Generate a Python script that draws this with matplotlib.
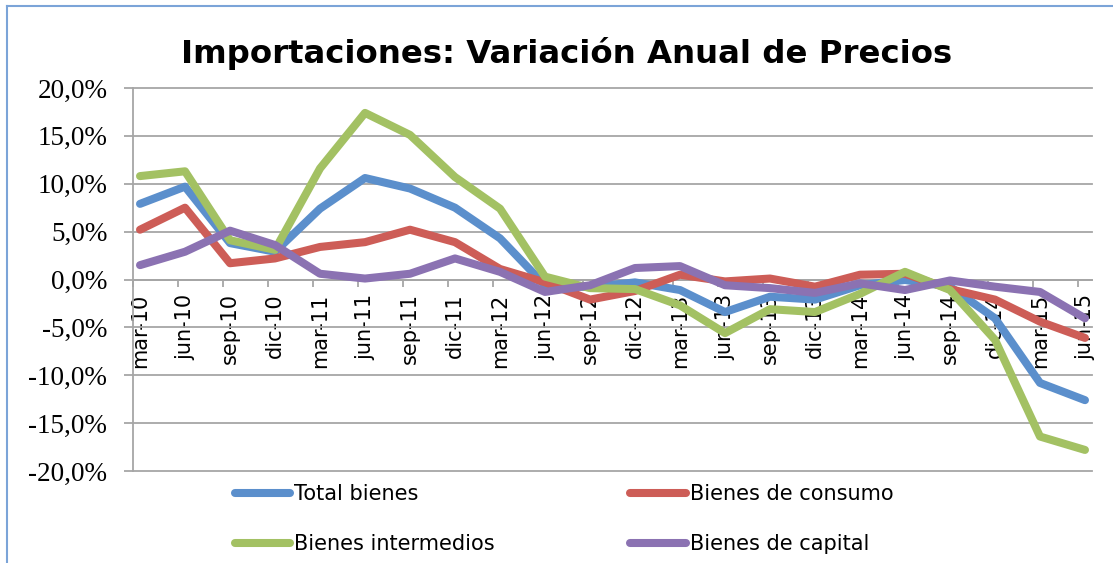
import matplotlib
matplotlib.use('Agg')
import matplotlib.pyplot as plt
from matplotlib.lines import Line2D

categories = ['mar-10', 'jun-10', 'sep-10', 'dic-10', 'mar-11', 'jun-11', 'sep-11', 'dic-11',
              'mar-12', 'jun-12', 'sep-12', 'dic-12', 'mar-13', 'jun-13', 'sep-13', 'dic-13',
              'mar-14', 'jun-14', 'sep-14', 'dic-14', 'mar-15', 'jun-15']

total_bienes = [7.9, 9.7, 3.8, 2.9, 7.4, 10.6, 9.5, 7.5, 4.3, -0.6, -0.8, -0.3,
                -1.1, -3.4, -1.8, -2.1, -0.6, -0.05, -0.75, -4.05, -10.8, -12.6]
bienes_consumo = [5.2, 7.5, 1.7, 2.2, 3.4, 3.9, 5.2, 3.9, 1.1, -0.3, -2.1, -1.2,
                  0.5, -0.2, 0.1, -0.75, 0.5, 0.6, -1.0, -2.1, -4.4, -6.1]
bienes_intermedios = [10.8, 11.3, 4.1, 3.1, 11.6, 17.4, 15.1, 10.7, 7.4, 0.3, -0.9, -1.0,
                      -2.7, -5.6, -3.1, -3.4, -1.5, 0.8, -1.1, -6.3, -16.4, -17.8]
bienes_capital = [1.5, 2.9, 5.1, 3.6, 0.6, 0.1, 0.6, 2.2, 0.8, -1.3, -0.6, 1.2,
                  1.4, -0.6, -0.9, -1.4, -0.4, -1.1, -0.1, -0.75, -1.3, -4.05]

series_names = ['Total bienes', 'Bienes de consumo', 'Bienes intermedios', 'Bienes de capital']
series_colors = ['#5B8FCC', '#CD5D57', '#A3C163', '#8B72B2']
y_ticks = [-20, -15, -10, -5, 0, 5, 10, 15, 20]

W, H = 1113, 563
fig = plt.figure(figsize=(W / 100, H / 100), dpi=100)
ax = fig.add_axes([133 / W, 1 - 471 / H, (1092 - 133) / W, (471 - 88) / H])

x = list(range(len(categories)))
handles = []
for vals, col, name in zip([total_bienes, bienes_consumo, bienes_intermedios, bienes_capital],
                           series_colors, series_names):
    h, = ax.plot(x, vals, color=col, lw=5.8, solid_capstyle='round',
                 solid_joinstyle='round', zorder=3, label=name)
    handles.append(h)

ax.set_xlim(-0.156, len(categories) - 1 + 0.156)
ax.set_ylim(-20, 20)

grid_col = '#A6A6A6'
ax.set_yticks(y_ticks, [f"{v:.1f}%".replace('.', ',') for v in y_ticks],
              fontfamily='Liberation Serif', fontsize=19.5)
ax.grid(axis='y', color=grid_col, lw=1.3)
for gl in ax.yaxis.get_gridlines():
    gl.set_clip_on(False)
ax.set_axisbelow(True)

for s in ['top', 'right']:
    ax.spines[s].set_visible(False)
ax.spines['bottom'].set_position(('data', 0))
ax.spines['bottom'].set_color(grid_col)
ax.spines['bottom'].set_linewidth(1.3)
ax.spines['left'].set_color(grid_col)
ax.spines['left'].set_linewidth(1.3)

ax.set_xticks(x, categories, rotation=90, fontsize=15)
ax.set_xticks([i - 0.156 for i in range(len(categories))], minor=True)
ax.tick_params(axis='x', which='major', length=0, pad=10)
ax.tick_params(axis='x', which='minor', length=5, width=1.3, color=grid_col, direction='out')
ax.tick_params(axis='y', length=6.5, width=1.3, color=grid_col, pad=12)

fig.text(567 / W, 1 - 63 / H, 'Importaciones: Variación Anual de Precios',
         ha='center', va='baseline', fontsize=23.3, fontweight='bold')

leg_order = [0, 2, 1, 3]
fig.legend([handles[i] for i in leg_order], [series_names[i] for i in leg_order],
           ncol=2, loc='upper left', bbox_to_anchor=(235 / W, 1 - 484 / H),
           frameon=False, fontsize=15, handlelength=2.65, handletextpad=0.2,
           columnspacing=6.5, labelspacing=1.45, borderpad=0, borderaxespad=0)

border = '#7BA4D8'
fig.add_artist(Line2D([7 / W, 7 / W], [0, 1 - 6 / H], transform=fig.transFigure, color=border, lw=1.5))
fig.add_artist(Line2D([7 / W, 1], [1 - 6 / H, 1 - 6 / H], transform=fig.transFigure, color=border, lw=1.5))

fig.savefig('out.png', dpi=100)
